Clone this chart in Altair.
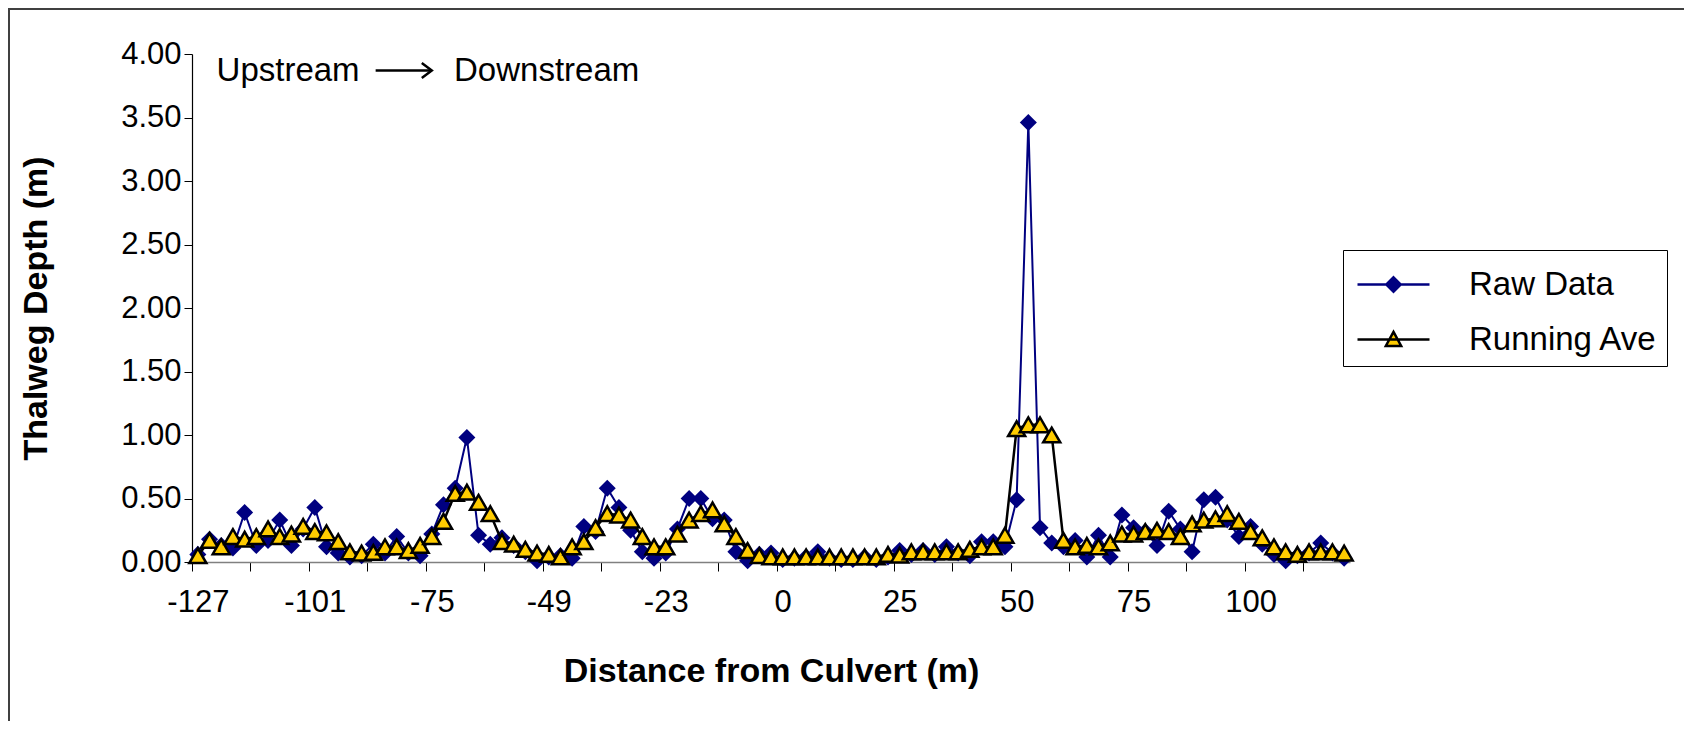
import altair as alt
import pandas as pd

# ---- data (99 stations, left to right) ----
raw = [0.06, 0.18, 0.13, 0.11, 0.39, 0.13, 0.17, 0.33, 0.13, 0.26,
       0.43, 0.12, 0.07, 0.04, 0.05, 0.14, 0.07, 0.20, 0.07, 0.05,
       0.22, 0.45, 0.58, 0.98, 0.21, 0.14, 0.19, 0.13, 0.08, 0.01,
       0.04, 0.05, 0.03, 0.28, 0.24, 0.58, 0.43, 0.25, 0.08, 0.03,
       0.07, 0.26, 0.50, 0.50, 0.34, 0.33, 0.08, 0.01, 0.06, 0.07,
       0.02, 0.03, 0.04, 0.08, 0.03, 0.02, 0.02, 0.04, 0.02, 0.04,
       0.09, 0.06, 0.09, 0.06, 0.12, 0.07, 0.05, 0.16, 0.16, 0.12,
       0.49, 3.46, 0.27, 0.15, 0.12, 0.17, 0.04, 0.21, 0.04, 0.37,
       0.27, 0.24, 0.13, 0.40, 0.26, 0.08, 0.49, 0.51, 0.33, 0.20,
       0.28, 0.14, 0.06, 0.01, 0.05, 0.07, 0.15, 0.07, 0.03]

ave = [0.05, 0.17, 0.12, 0.20, 0.18, 0.20, 0.26, 0.20, 0.22, 0.28,
       0.24, 0.23, 0.16, 0.08, 0.07, 0.075, 0.12, 0.12, 0.09, 0.13,
       0.20, 0.32, 0.54, 0.55, 0.47, 0.38, 0.16, 0.14, 0.10, 0.07,
       0.06, 0.04, 0.12, 0.16, 0.27, 0.38, 0.37, 0.33, 0.20, 0.12,
       0.12, 0.22, 0.33, 0.38, 0.41, 0.30, 0.20, 0.09, 0.05, 0.04,
       0.04, 0.04, 0.04, 0.04, 0.04, 0.04, 0.04, 0.04, 0.04, 0.06,
       0.055, 0.08, 0.08, 0.08, 0.08, 0.08, 0.10, 0.12, 0.12, 0.21,
       1.05, 1.08, 1.08, 1.00, 0.17, 0.12, 0.13, 0.12, 0.15, 0.22,
       0.22, 0.24, 0.25, 0.24, 0.20, 0.30, 0.33, 0.34, 0.38, 0.32,
       0.24, 0.19, 0.12, 0.08, 0.06, 0.08, 0.08, 0.08, 0.07]

tick_labels = ["-127", "-101", "-75", "-49", "-23", "0", "25", "50", "75", "100"]
series_names = ["Raw Data", "Running Ave"]
y_ticks = [0, 0.5, 1.0, 1.5, 2.0, 2.5, 3.0, 3.5, 4.0]

ann_text = ["Upstream", "Downstream"]
ann_x = [1.6, 21.9]
ann_y = [3.87, 3.87]
arrow_x = [15.2, 20.0]
arrow_y = [3.87]

n = len(raw)
idx = list(range(n))
df_raw = pd.DataFrame({"i": idx, "depth": raw, "series": series_names[0]})
df_ave = pd.DataFrame({"i": idx, "depth": ave, "series": series_names[1]})
df_all = pd.concat([df_raw, df_ave], ignore_index=True)
df_ann = pd.DataFrame({"i": ann_x, "depth": ann_y, "t": ann_text})
df_arrow = pd.DataFrame({"i": [arrow_x[0]], "i2": [arrow_x[1]], "depth": arrow_y})
df_head = pd.DataFrame({"i": [arrow_x[1]], "depth": arrow_y})
df_one = pd.DataFrame({"k": [0]})

FONT = "Liberation Sans"
W, H = 1158, 508
PAD = {"left": 184, "top": 46, "right": 334, "bottom": 159}

xscale = alt.Scale(domain=[-0.5, n - 0.5], nice=False, zero=False)
yscale = alt.Scale(domain=[0, 4], nice=False, zero=True)

x_tick_axis = alt.Axis(values=[-0.5 + 5 * k for k in range(20)], labels=False,
                       tickSize=9, tickColor="#000000", tickWidth=1,
                       domainColor="#808080", domainWidth=1.5, grid=False,
                       title=None, orient="bottom")
label_expr = "[" + ",".join("'%s'" % t for t in tick_labels) + "][round(datum.value / 10)]"
x_label_axis = alt.Axis(values=[10 * k for k in range(len(tick_labels))],
                        labelExpr=label_expr, ticks=False, tickSize=0, domain=False,
                        grid=False, labelFont=FONT, labelFontSize=31, labelColor="#000000",
                        labelPadding=25, labelFlush=False, labelOverlap=False,
                        title="Distance from Culvert (m)", titleFont=FONT,
                        titleFontSize=34, titleFontWeight="bold", titleColor="#000000",
                        titleY=109, titleBaseline="middle", orient="bottom")
y_axis = alt.Axis(values=y_ticks, format=".2f", tickSize=8, tickColor="#000000",
                  domainColor="#000000", domainWidth=1.2, grid=False,
                  labelFont=FONT, labelFontSize=31, labelColor="#000000", labelPadding=3,
                  title="Thalweg Depth (m)", titleFont=FONT, titleFontSize=34,
                  titleFontWeight="bold", titleColor="#000000",
                  titleX=-156, titleY=H / 2, titleBaseline="middle")

x_enc = alt.X("i:Q", scale=xscale, axis=x_tick_axis)
y_enc = alt.Y("depth:Q", scale=yscale, axis=y_axis)

raw_line = alt.Chart(df_raw).mark_line(color="#000080", strokeWidth=2).encode(x=x_enc, y=y_enc)
raw_pts = alt.Chart(df_raw).mark_point(shape="diamond", filled=True, fill="#000080",
                                       size=290, opacity=1).encode(x=x_enc, y=y_enc)
ave_line = alt.Chart(df_ave).mark_line(color="#000000", strokeWidth=2.5).encode(x=x_enc, y=y_enc)
ave_pts = alt.Chart(df_ave).mark_point(shape="triangle-up", filled=True, fill="#FFCC00",
                                       stroke="#000000", strokeWidth=2.5, size=290,
                                       opacity=1).encode(x=x_enc, y=y_enc)

ann = alt.Chart(df_ann).mark_text(align="left", baseline="middle", font=FONT,
                                  fontSize=33, color="#000000").encode(x=x_enc, y=y_enc, text="t:N")
arrow = alt.Chart(df_arrow).mark_rule(color="#000000", strokeWidth=2.5).encode(
    x=x_enc, x2="i2:Q", y=y_enc)
head = alt.Chart(df_head).mark_point(shape="M-1,-0.75L0,0L-1,0.75", filled=False,
                                     stroke="#000000", strokeWidth=2.5, size=400,
                                     opacity=1).encode(x=x_enc, y=y_enc)

# chart-area border (left and top edges are the visible parts in the reference)
frame_left = alt.Chart(df_one).mark_rule(color="#404040", strokeWidth=2).encode(
    x=alt.value(-PAD["left"] + 1), y=alt.value(-PAD["top"]), y2=alt.value(H + PAD["bottom"]))
frame_top = alt.Chart(df_one).mark_rule(color="#404040", strokeWidth=2).encode(
    x=alt.value(-PAD["left"]), x2=alt.value(W + PAD["right"]), y=alt.value(-PAD["top"] + 1))

data_layers = alt.layer(raw_line, raw_pts, ave_line, ave_pts, ann, arrow, head)

path_raw = "M-1.5,0H1.5M0,-0.3L0.3,0L0,0.3L-0.3,0Z"
path_ave = "M-1.5,0H1.5M0,-0.32L0.32,0.27L-0.32,0.27Z"
legend_def = alt.Legend(title=None, orient="none", legendX=1151, legendY=196,
                        labelFont=FONT, labelFontSize=33, labelColor="#000000",
                        labelLimit=600,
                        symbolSize=2304, symbolStrokeWidth=2.5, symbolOffset=16,
                        labelOffset=50, padding=9, rowPadding=12,
                        strokeColor="#000000", fillColor="#ffffff")
legend_layer = alt.Chart(df_all).transform_filter("datum.i < 0").mark_point(
    filled=True, opacity=1).encode(
    x=alt.X("i:Q", scale=xscale, axis=x_label_axis),
    y=y_enc,
    shape=alt.Shape("series:N", scale=alt.Scale(domain=series_names, range=[path_raw, path_ave]),
                    legend=legend_def),
    fill=alt.Fill("series:N", scale=alt.Scale(domain=series_names, range=["#000080", "#FFCC00"]),
                  legend=legend_def),
    stroke=alt.Stroke("series:N", scale=alt.Scale(domain=series_names, range=["#000080", "#000000"]),
                      legend=legend_def),
)

chart = alt.layer(frame_left, frame_top, data_layers, legend_layer).resolve_axis(
    x="independent").properties(
    width=W, height=H,
    padding=PAD,
    autosize=alt.AutoSizeParams(type="none"),
    background="#ffffff",
).configure_view(stroke=None)

chart.save("out.html", embed_options={"renderer": "svg", "actions": False})
